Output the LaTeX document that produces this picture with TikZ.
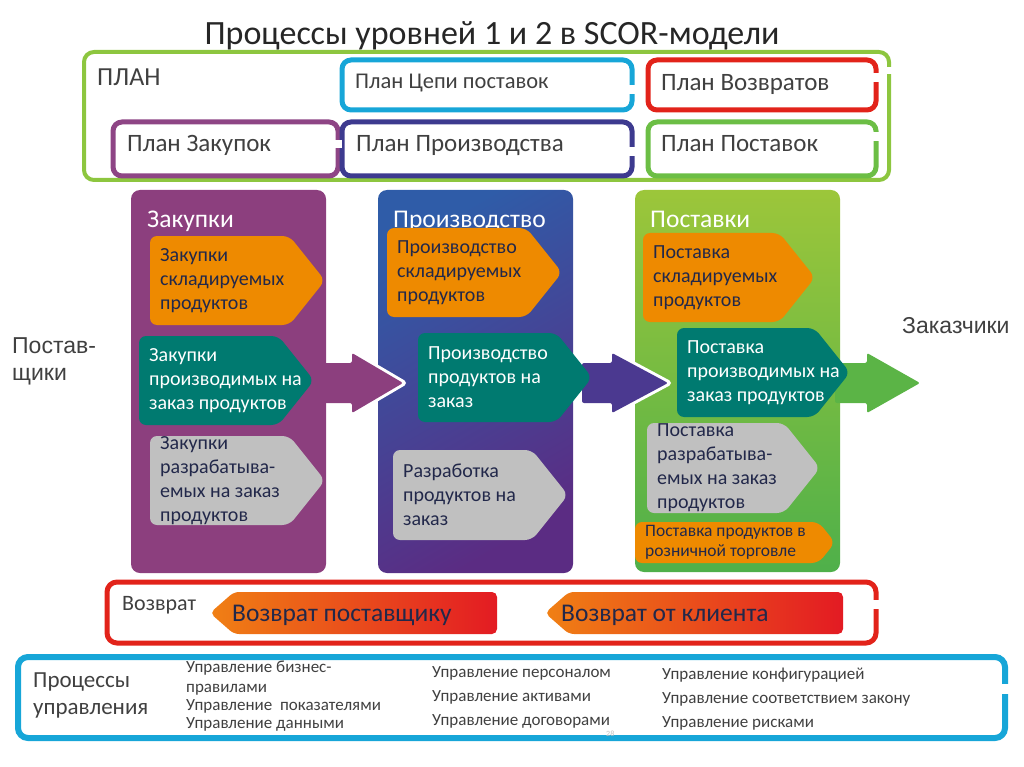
\documentclass[tikz,border=0pt]{standalone}
\usepackage{fontspec}
\setmainfont{Carlito}
\newfontfamily\arialfont{Liberation Sans}

\definecolor{plangreen}{HTML}{8DC63F}
\definecolor{plancyan}{HTML}{17A6D8}
\definecolor{planred}{HTML}{E2231A}
\definecolor{planpurple}{HTML}{8E4585}
\definecolor{planblue}{HTML}{3D3A8F}
\definecolor{plangreentwo}{HTML}{6CBE45}
\definecolor{colpurple}{HTML}{8C3F7E}
\definecolor{makeblue}{HTML}{2F5CA8}
\definecolor{makeviolet}{HTML}{5B2C83}
\definecolor{delivlime}{HTML}{9CC63A}
\definecolor{delivgreen}{HTML}{4FB04A}
\definecolor{sorange}{HTML}{EE8A00}
\definecolor{steal}{HTML}{007A70}
\definecolor{sgray}{HTML}{C0C0C0}
\definecolor{arrowindigo}{HTML}{4B3990}
\definecolor{arrowgreen}{HTML}{5BB446}
\definecolor{retorange}{HTML}{F08014}
\definecolor{retred}{HTML}{E31B23}
\definecolor{textgray}{HTML}{404040}
\definecolor{textnavy}{HTML}{22284A}
\definecolor{titlegray}{HTML}{262626}

% pentagon box: name, fill, x, y, width, height, text, text options
\newcommand{\signalbox}[8]{%
  \fill[#2, rounded corners=7pt] (#3,#4) -- (#3+#5-0.4*#6,#4) -- (#3+#5,#4+0.5*#6)
    -- (#3+#5-0.4*#6,#4+#6) -- (#3,#4+#6) -- cycle;
  \node[boxtext, #8] (#1) at (#3+10,#4+0.5*#6) {#7};
}

\begin{document}
\begin{tikzpicture}[x=1pt, y=-1pt,
  frame/.style={draw=#1, line width=5pt, rounded corners=10pt, anchor=north west, inner sep=0pt, outer sep=0pt},
  planbox/.style={draw=#1, line width=5pt, rounded corners=9pt, anchor=north west, inner sep=0pt, outer sep=0pt,
    minimum height=50pt},
  plantext/.style={anchor=base west, inner sep=0pt, text=textgray, font=\fontsize{25}{29}\selectfont},
  column/.style={rounded corners=9pt, anchor=north west, minimum width=195pt, minimum height=383pt, inner sep=0pt, outer sep=0pt},
  coltitle/.style={anchor=base west, text=white, inner sep=0pt, font=\fontsize{25.5}{29}\selectfont},
  boxtext/.style={anchor=west, align=left, inner sep=0pt, text=textnavy, font=\fontsize{20}{24}\selectfont},
  label/.style={anchor=base west, inner sep=0pt, text=textgray},
  mgmtitem/.style={anchor=base west, inner sep=0pt, text=textgray, font=\fontsize{17}{20}\selectfont},
  gaptick/.style={white, line width=7pt},
  headrim/.style={white, line width=6pt, line join=round}]
\useasboundingbox (0,0) rectangle (1024,767);

\node[anchor=base, inner sep=0pt, text=titlegray, font=\fontsize{34}{40}\selectfont] (title) at (492,45)
  {Процессы уровней 1 и 2 в SCOR-модели};

% plan
\node[frame=plangreen, line width=4pt, minimum width=805pt, minimum height=128pt] (plan) at (84,52) {};
\draw[gaptick] (889,67) -- (889,74);
\node[label, font=\fontsize{26}{30}\selectfont] (planl) at (97,86) {ПЛАН};
\node[planbox=plancyan, minimum width=290pt] (pchain) at (342,60) {};
\node[planbox=planred, minimum width=228pt] (preturn) at (648,60) {};
\node[planbox=planpurple, minimum width=225pt, minimum height=54pt] (psource) at (113,122) {};
\node[planbox=planblue, minimum width=290pt, minimum height=54pt] (pmake) at (342,122) {};
\node[planbox=plangreentwo, minimum width=228pt, minimum height=54pt] (pdeliver) at (648,122) {};
\draw[gaptick] (632,85) -- (632,94);
\draw[gaptick] (876,73) -- (876,82);
\draw[gaptick] (338,140) -- (338,148);
\draw[gaptick] (632,147) -- (632,156);
\draw[gaptick] (876,132) -- (876,141);
\node[plantext, font=\fontsize{22.5}{26}\selectfont] (pchaint) at (355,89) {План Цепи поставок};
\node[plantext] (preturnt) at (661,91) {План Возвратов};
\node[plantext] (psourcet) at (127,152) {План Закупок};
\node[plantext] (pmaket) at (356,152) {План Производства};
\node[plantext] (pdelivert) at (661,152) {План Поставок};

% columns
\node[column, fill=colpurple] (source) at (131,190) {};
\node[column, top color=makeblue, bottom color=makeviolet, shading angle=30] (make) at (378,190) {};
\node[column, top color=delivlime, bottom color=delivgreen, minimum width=205pt, minimum height=382pt] (deliver) at (635,190) {};
\node[coltitle] (sourcet) at (147,228) {Закупки};
\node[coltitle] (maket) at (393,228) {Производство};
\node[coltitle] (delivert) at (650,228) {Поставки};

% flow arrows
\draw[headrim] (352,353) -- (403,383) -- (352,413);
\fill[colpurple, rounded corners=2pt] (320,363) -- (352,363) -- (352,353) -- (403,383) -- (352,413) -- (352,403) -- (320,403) -- cycle;
\draw[headrim] (612,353) -- (668,383) -- (612,413);
\fill[arrowindigo, rounded corners=2pt] (582,363) -- (612,363) -- (612,353) -- (668,383) -- (612,413) -- (612,403) -- (582,403) -- cycle;
\fill[arrowgreen, rounded corners=2pt] (835,363) -- (867,363) -- (867,353) -- (920,383) -- (867,413) -- (867,403) -- (835,403) -- cycle;

% level 2 processes
\signalbox{s1}{sorange}{150}{236}{175}{89}{Закупки\\складируемых\\продуктов}{}
\signalbox{s2}{steal}{139}{336}{175}{89}{Закупки\\производимых на\\заказ продуктов}{text=white}
\signalbox{s3}{sgray}{150}{436}{175}{89}{Закупки\\разрабатыва-\\емых на заказ\\продуктов}{}
\signalbox{m1}{sorange}{387}{228}{175}{89}{Производство\\складируемых\\продуктов}{}
\signalbox{m2}{steal}{418}{333}{174}{89}{Производство\\продуктов на\\заказ}{text=white}
\signalbox{m3}{sgray}{393}{450}{175}{90}{Разработка\\продуктов на\\заказ}{}
\signalbox{d1}{sorange}{643}{233}{172}{89}{Поставка\\складируемых\\продуктов}{}
\signalbox{d2}{steal}{677}{328}{173}{89}{Поставка\\производимых на\\заказ продуктов}{text=white}
\signalbox{d3}{sgray}{647}{423}{173}{90}{Поставка\\разрабатыва-\\емых на заказ\\продуктов}{}
\signalbox{d4}{sorange}{635}{522}{200}{41}{Поставка продуктов в\\розничной торговле}{font=\fontsize{17.5}{20}\selectfont}

\node[anchor=west, align=left, inner sep=0pt, text=textgray, font=\arialfont\fontsize{23}{27}\selectfont] (suppliers) at (12,361) {Постав-\\щики};
\node[label, font=\arialfont\fontsize{23}{27}\selectfont] (customers) at (902,333) {Заказчики};

% return
\node[frame=planred, minimum width=769pt, minimum height=61pt] (ret) at (107,582) {};
\draw[gaptick] (876,600) -- (876,609);
\node[label, font=\fontsize{22}{26}\selectfont] (retl) at (122,610) {Возврат};
\shade[left color=retorange, right color=retred, rounded corners=5pt] (210,613) -- (234,592) -- (497,592) -- (497,634) -- (234,634) -- cycle;
\node[label, text=textnavy, font=\fontsize{25.5}{29}\selectfont] (rsup) at (232,621) {Возврат поставщику};
\shade[left color=retorange, right color=retred, rounded corners=5pt] (545,613) -- (569,592) -- (843,592) -- (843,634) -- (569,634) -- cycle;
\node[label, text=textnavy, font=\fontsize{25.5}{29}\selectfont] (rcust) at (561,621) {Возврат от клиента};

% management
\node[frame=plancyan, line width=6pt, minimum width=987pt, minimum height=81pt] (mgmt) at (18,657) {};
\draw[gaptick] (1005,684) -- (1005,694);
\node[anchor=west, align=left, inner sep=0pt, text=textgray, font=\fontsize{23}{27}\selectfont] (mgmtl) at (33,695) {Процессы\\управления};
\node[mgmtitem] (g1) at (186,672) {Управление бизнес-};
\node[mgmtitem] (g1b) at (186,692) {правилами};
\node[mgmtitem] (g2) at (186,710) {Управление\ \ показателями};
\node[mgmtitem] (g3) at (186,728) {Управление данными};
\node[mgmtitem] (h1) at (432,677) {Управление персоналом};
\node[mgmtitem] (h2) at (432,701) {Управление активами};
\node[mgmtitem] (h3) at (432,725) {Управление договорами};
\node[mgmtitem] (k1) at (662,679) {Управление конфигурацией};
\node[mgmtitem] (k2) at (662,703) {Управление соответствием закону};
\node[mgmtitem] (k3) at (662,727) {Управление рисками};
\node[anchor=base west, inner sep=0pt, text=black!25, font=\fontsize{8}{9}\selectfont] (pagenum) at (606,736) {28};
\end{tikzpicture}
\end{document}
